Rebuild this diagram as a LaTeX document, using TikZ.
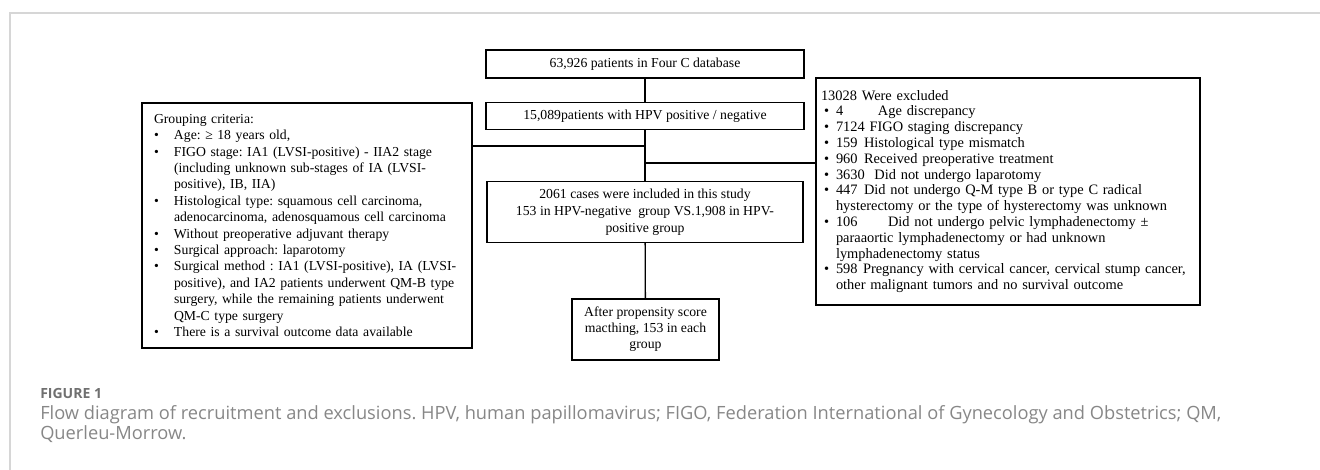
\documentclass[tikz,border=0pt]{standalone}
\usepackage{fontspec}
\setmainfont{Liberation Serif}
\newfontfamily\captionfont{Open Sans}
\usetikzlibrary{positioning}
\frenchspacing
\definecolor{framegray}{RGB}{214,214,214}
\definecolor{captiongray}{RGB}{135,135,135}
\definecolor{labelgray}{RGB}{112,112,112}
\newlength{\pxl}
\setlength{\pxl}{0.75pt}
\newcommand{\critbul}{\makebox[20\pxl][l]{\textbullet}}
\newcommand{\critind}{\hspace*{20\pxl}}
\newcommand{\exbul}{\makebox[15\pxl][l]{\hspace*{3\pxl}\textbullet}}
\newcommand{\exind}{\hspace*{15\pxl}}
\begin{document}
\begin{tikzpicture}[x=0.75pt, y=-0.75pt,
  flowbox/.style={draw, line width=1.3\pxl, align=center, inner sep=0pt, font=\fontsize{10.3pt}{12.6pt}\selectfont},
  listbox/.style={draw, line width=1.3\pxl, align=left, inner ysep=0pt}]
\useasboundingbox (0,0) rectangle (1320,470);
\draw[framegray, line width=1.3\pxl] (10,470) -- (10,13) -- (1320,13);
\node[flowbox, minimum width=318\pxl, minimum height=28\pxl] (total) at (645,64) {63,926 patients in Four C database};
\node[flowbox, minimum width=318\pxl, minimum height=27\pxl] (hpv) at (645,116) {15,089patients with HPV positive / negative};
\node[flowbox, minimum width=316\pxl, minimum height=61\pxl] (included) at (645,212) {2061 cases were included in this study\\153 in HPV-negative\ \ group VS.1,908 in HPV-\\positive group};
\node[flowbox, minimum width=147\pxl, minimum height=61\pxl, font=\fontsize{10.3pt}{12pt}\selectfont] (matched) at (645.5,329.5) {After propensity score\\macthing, 153 in each\\group};
\node[listbox, minimum width=330\pxl, minimum height=245\pxl, text width=306\pxl, inner xsep=12\pxl, font=\fontsize{10.3pt}{12.3pt}\selectfont] (criteria) at (307,225.5) {Grouping criteria:\\
\critbul Age: ≥ 18 years old,\\
\critbul FIGO stage: IA1 (LVSI-positive) - IIA2 stage\\
\critind (including unknown sub-stages of IA (LVSI-\\
\critind positive), IB, IIA)\\
\critbul Histological type: squamous cell carcinoma,\\
\critind adenocarcinoma, adenosquamous cell carcinoma\\
\critbul Without preoperative adjuvant therapy\\
\critbul Surgical approach: laparotomy\\
\critbul Surgical method : IA1 (LVSI-positive), IA (LVSI-\\
\critind positive), and IA2 patients underwent QM-B type\\
\critind surgery, while the remaining patients underwent\\
\critind QM-C type surgery\\
\critbul There is a survival outcome data available};
\node[listbox, minimum width=384\pxl, minimum height=227\pxl, text width=374\pxl, inner xsep=5\pxl, font=\fontsize{10.8pt}{11.85pt}\selectfont] (excluded) at (1008,191.5) {13028 Were excluded\\
\exbul\makebox[42\pxl][l]{4}Age discrepancy\\
\exbul 7124 FIGO staging discrepancy\\
\exbul\makebox[28\pxl][l]{159}Histological type mismatch\\
\exbul\makebox[28\pxl][l]{960}Received preoperative treatment\\
\exbul 3630\ \ Did not undergo laparotomy\\
\exbul\makebox[28\pxl][l]{447}Did not undergo Q-M type B or type C radical\\
\exind hysterectomy or the type of hysterectomy was unknown\\
\exbul\makebox[52\pxl][l]{106}Did not undergo pelvic lymphadenectomy ±\\
\exind paraaortic lymphadenectomy or had unknown\\
\exind lymphadenectomy status\\
\exbul\makebox[27\pxl][l]{598}Pregnancy with cervical cancer, cervical stump cancer,\\
\exind other malignant tumors and no survival outcome};
\coordinate (leftjoin) at (645,146);
\coordinate (rightjoin) at (645,163);
\draw[line width=1.3\pxl] (total) -- (hpv);
\draw[line width=1.3\pxl] (hpv) -- (included);
\draw[line width=1.3\pxl] (criteria.east |- leftjoin) -- (leftjoin);
\draw[line width=1.3\pxl] (rightjoin) -- (rightjoin -| excluded.west);
\draw[line width=1.3\pxl] (included) -- (matched);
\node[anchor=base west, inner sep=0pt, text=labelgray, font=\captionfont\fontsize{10.5pt}{12pt}\selectfont\bfseries] (figlabel) at (40,398) {FIGURE 1};
\node[anchor=base west, inner sep=0pt, align=left, text=captiongray, font=\captionfont\fontsize{13.7pt}{13.5pt}\selectfont] (figcaption) at (40,439) {Flow diagram of recruitment and exclusions. HPV, human papillomavirus; FIGO, Federation International of Gynecology and Obstetrics; QM,\\Querleu-Morrow.};
\end{tikzpicture}
\end{document}
